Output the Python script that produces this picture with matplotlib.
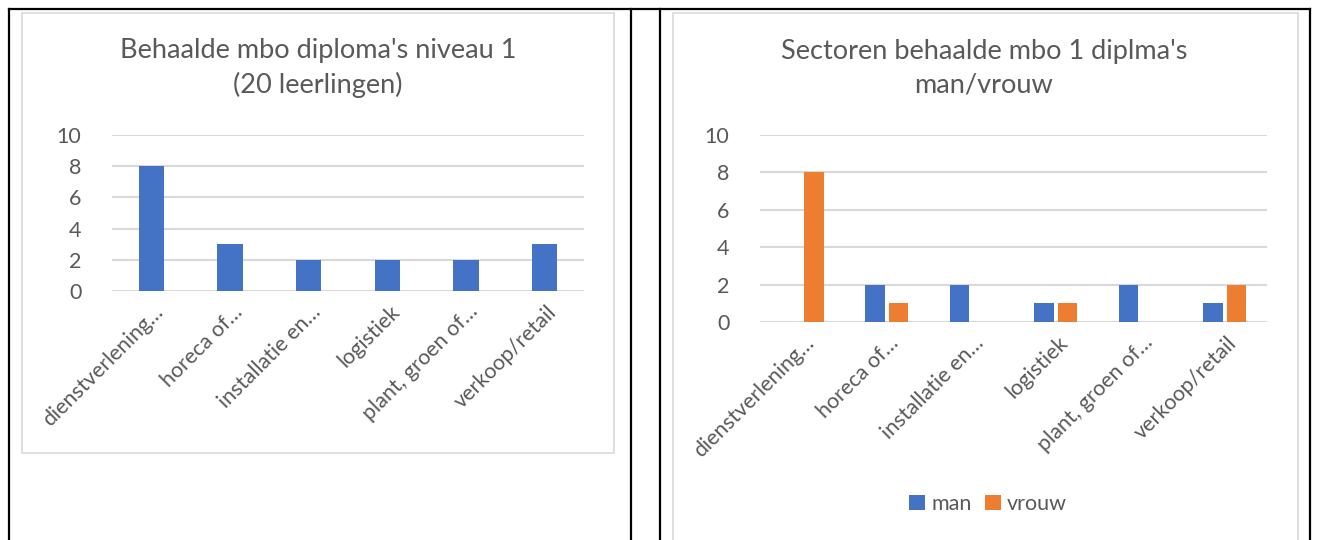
import matplotlib
matplotlib.use("Agg")
import matplotlib.pyplot as plt
import matplotlib.transforms as mtransforms
import numpy as np
from matplotlib.patches import Rectangle
from matplotlib.lines import Line2D

plt.rcParams['font.family'] = ['Lato', 'DejaVu Sans']

categories = ["dienstverlening…", "horeca of…", "installatie en…", "logistiek",
              "plant, groen of…", "verkoop/retail"]
totaal = [8, 3, 2, 2, 2, 3]
man = [0, 2, 2, 1, 2, 1]
vrouw = [8, 1, 0, 1, 0, 2]
yticks = [0, 2, 4, 6, 8, 10]

title1 = "Behaalde mbo diploma's niveau 1\n(20 leerlingen)"
title2 = "Sectoren behaalde mbo 1 diplma's\nman/vrouw"

BLUE = "#4472C4"
ORANGE = "#ED7D31"
TXT = "#595959"
GRID = "#D9D9D9"
FS = 15.5

W, H = 1317, 540
fig = plt.figure(figsize=(W / 100, H / 100), dpi=100)
fig.patch.set_facecolor("white")


def fx(px):
    return px / W


def fy(py):
    return 1 - py / H


# table lines
for xx in [9, 631, 660, 1310]:
    fig.add_artist(Line2D([fx(xx), fx(xx)], [fy(9), fy(540)], color="black",
                          lw=1.6, zorder=-1))
fig.add_artist(Line2D([fx(9), fx(1310)], [fy(9), fy(9)], color="black", lw=1.6,
                      zorder=-1))

# chart frames
fig.add_artist(Rectangle((fx(22), fy(453)), fx(614) - fx(22), fy(13) - fy(453),
                         facecolor="white", edgecolor=GRID, lw=1.2, zorder=-1))
fig.add_artist(Rectangle((fx(673), fy(545)), fx(1298) - fx(673), fy(13) - fy(545),
                         facecolor="white", edgecolor=GRID, lw=1.2, zorder=-1))


def style(ax):
    ax.set_ylim(0, 10)
    ax.set_yticks(yticks)
    ax.set_xlim(-0.5, len(categories) - 0.5)
    ax.set_xticks(np.arange(len(categories)))
    ax.set_xticklabels(categories, rotation=45, ha="right", va="center",
                       rotation_mode="anchor", fontsize=FS, color=TXT)
    ax.tick_params(axis="x", length=0, pad=12)
    ax.tick_params(axis="y", length=0, pad=22, labelsize=FS, labelcolor=TXT)
    off = mtransforms.ScaledTranslation(9 / 100, -1 / 100, fig.dpi_scale_trans)
    for lbl in ax.get_xticklabels():
        lbl.set_transform(lbl.get_transform() + off)
    for s in ax.spines.values():
        s.set_visible(False)
    ax.set_axisbelow(True)
    ax.yaxis.grid(True, color=GRID, lw=1.5)
    ax.set_facecolor("none")


x = np.arange(len(categories))

# left chart
ax1 = fig.add_axes([fx(112), fy(291), fx(584) - fx(112), fy(135) - fy(291)])
ax1.bar(x, totaal, width=0.32, color=BLUE)
style(ax1)
fig.text(fx(318), fy(68), title1, ha="center", va="center", fontsize=19.5,
         color=TXT, linespacing=1.4)

# right chart
ax2 = fig.add_axes([fx(760), fy(322), fx(1267) - fx(760), fy(135) - fy(322)])
bw = 0.23
ax2.bar(x - bw / 2 - 0.025, man, width=bw, color=BLUE, label="man")
ax2.bar(x + bw / 2 + 0.025, vrouw, width=bw, color=ORANGE, label="vrouw")
style(ax2)
fig.text(fx(984), fy(68), title2, ha="center", va="center", fontsize=19.5,
         color=TXT, linespacing=1.4)
leg = fig.legend(*ax2.get_legend_handles_labels(), loc="center",
                 bbox_to_anchor=(fx(988), fy(504)), ncol=2, frameon=False,
                 fontsize=FS, handlelength=0.75, handleheight=0.75,
                 columnspacing=0.6, handletextpad=0.3)
for t in leg.get_texts():
    t.set_color(TXT)

fig.savefig("out.png", dpi=100, facecolor="white")
